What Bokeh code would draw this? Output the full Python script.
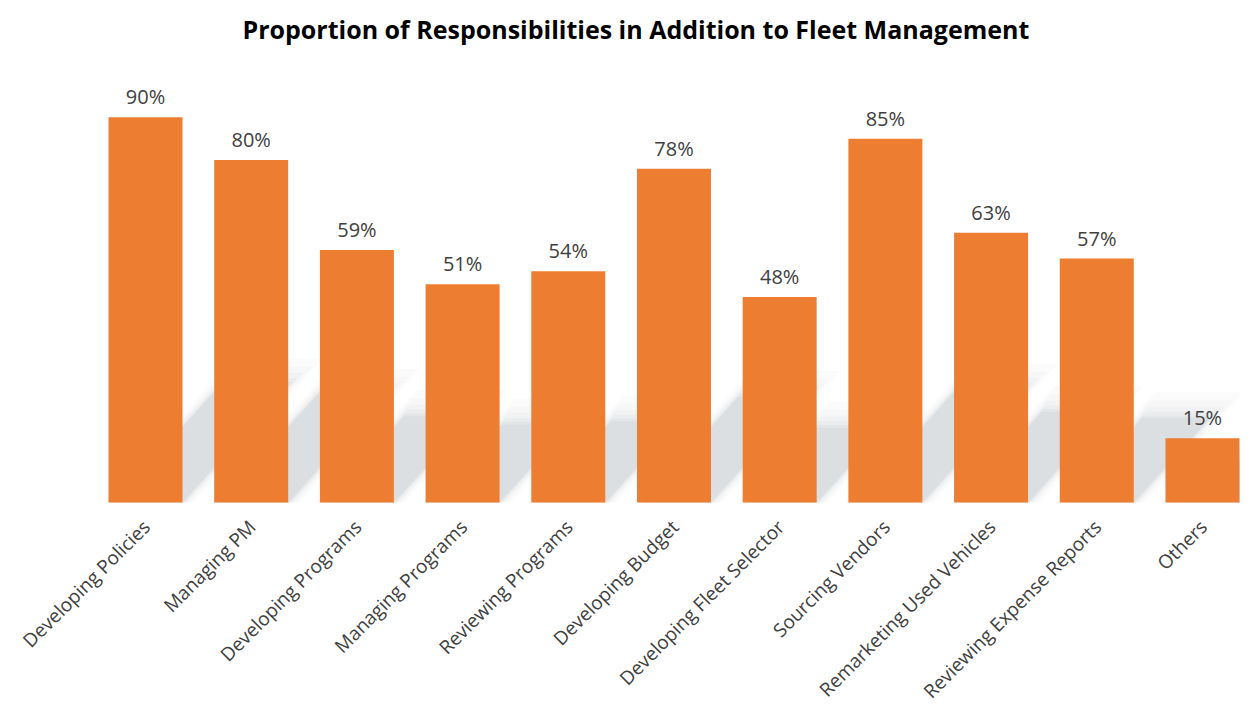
import math
from bokeh.plotting import figure
from bokeh.models import Range1d, ColumnDataSource
from bokeh.embed import file_html
from bokeh.resources import INLINE
from bokeh.core.properties import value

categories = ["Developing Policies", "Managing PM", "Developing Programs", "Managing Programs",
              "Reviewing Programs", "Developing Budget", "Developing Fleet Selector",
              "Sourcing Vendors", "Remarketing Used Vehicles", "Reviewing Expense Reports", "Others"]
values = [90, 80, 59, 51, 54, 78, 48, 85, 63, 57, 15]
value_labels = [f"{v}%" for v in values]

positions = list(range(len(categories)))
BAR_W = 0.7
ORANGE = "#ED7D31"
FONT = "Open Sans"

# frame: x 0..1240 px, y 50..713 px, baseline (y=0) at 502 px
p = figure(width=1240, height=713, output_backend="svg", toolbar_location=None,
           x_range=Range1d(-1.372, 10.36), y_range=Range1d(-49.3, 105.6),
           min_border_left=0, min_border_right=0, min_border_top=50, min_border_bottom=0)

p.title.text = "Proportion of Responsibilities in Addition to Fleet Management"
p.title.text_font = FONT
p.title.text_font_size = "25px"
p.title.text_font_style = "bold"
p.title.text_color = "#000000"
p.title.align = "left"
p.title.offset = 242

# soft perspective shadows (derived from values)
px_per_x = 105.7
px_per_y = 4.28
layers = [(0.10, 0.04), (0.07, 0.045), (0.045, 0.055), (0.025, 0.065), (0.01, 0.075), (0.0, 0.09)]
for grow, alpha in layers:
    xs, ys = [], []
    for xi, v in zip(positions, values):
        h = 0.24 * v + 6 + grow * 60
        dx = h * px_per_y * 0.9 / px_per_x
        l = xi - BAR_W / 2 - grow + 0.06
        r = xi + BAR_W / 2 + grow
        xs.append([l, r, r + dx, l + dx])
        ys.append([0, 0, h, h])
    p.patches(xs, ys, fill_color="#9AA0A8", fill_alpha=alpha, line_color=None)

src = ColumnDataSource(dict(x=positions, top=values, lab=value_labels,
                            base=[0] * len(positions), cat=categories))
p.vbar(x="x", top="top", width=BAR_W, source=src, fill_color=ORANGE, line_color=None)
p.text(x="x", y="top", text="lab", source=src, text_align="center", text_baseline="bottom",
       y_offset=-7, text_font=value(FONT), text_font_size="20px", text_color="#404040")

# rotated category labels
p.text(x="x", y="base", text="cat", source=src, angle=math.pi / 4, text_align="right",
       text_baseline="middle", x_offset=1, y_offset=21, text_font=value(FONT),
       text_font_size="19px", text_color="#404040")

p.xaxis.visible = False
p.yaxis.visible = False
p.xgrid.visible = False
p.ygrid.visible = False
p.outline_line_color = None

open("out.html", "w").write(file_html(p, INLINE))
